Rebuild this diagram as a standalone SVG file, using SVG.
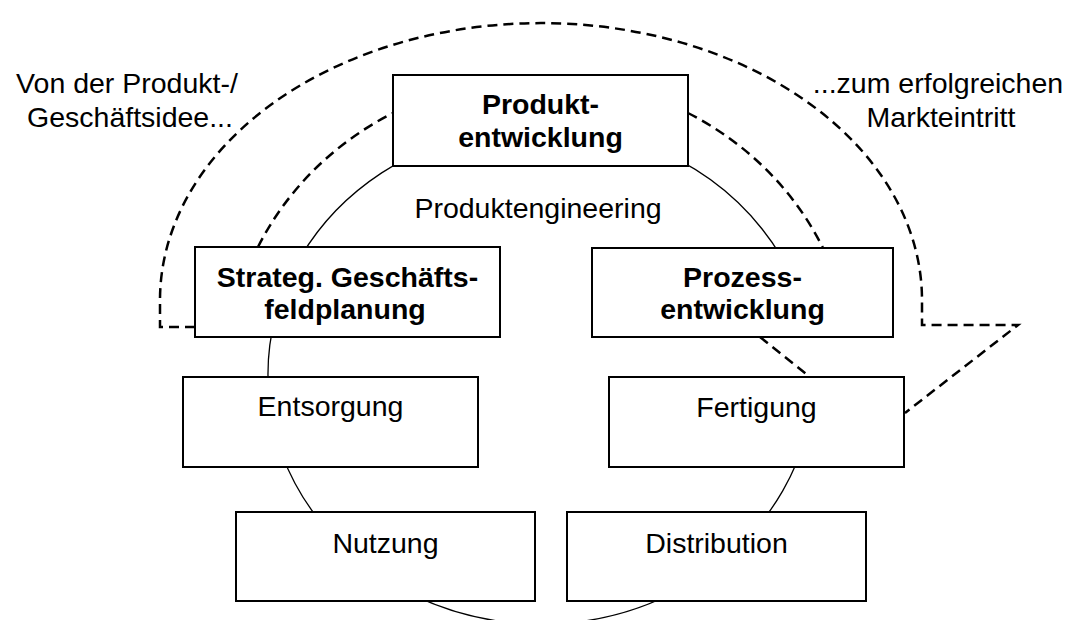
<svg xmlns="http://www.w3.org/2000/svg" width="1071" height="620" viewBox="0 0 1071 620">
  <style>
    .box { fill: #ffffff; stroke: #000000; stroke-width: 2; }
    .ring { fill: none; stroke: #000000; stroke-width: 1.3; }
    .dash { fill: none; stroke: #000000; stroke-width: 2.5; stroke-dasharray: 10 6; }
    text { font-family: "Liberation Sans", Arial, sans-serif; font-size: 28.5px; fill: #000000; text-anchor: middle; }
    .bold { font-weight: bold; }
  </style>
  <rect width="1071" height="620" fill="#ffffff"/>

  <!-- connectors: life-cycle ring and dashed flow from idea to market entry -->
  <g id="connectors">
    <!-- life-cycle ring (open between Prozessentwicklung and Fertigung) -->
    <path class="ring" d="M814,377 A273,249 0 1 1 810.8,337"/>
    <!-- inner dashed arc over Produktentwicklung -->
    <path class="dash" d="M258,247 A313.6,297 0 0 1 393,113"/>
    <path class="dash" d="M688,113 A313.6,297 0 0 1 823,248"/>
    <!-- dashed link Prozessentwicklung to Fertigung -->
    <path class="dash" d="M760,337 L810,377"/>
    <!-- outer dashed arrow outline -->
    <path class="dash" d="M195,327 L160,327 L160,300 A381,277 0 0 1 922,300 L922,325 L1018,325 L905,413"/>
  </g>

  <g id="label-start">
    <text x="127" y="93">Von der Produkt-/</text>
    <text x="130" y="127">Geschäftsidee...</text>
  </g>
  <g id="label-end">
    <text x="938" y="93">...zum erfolgreichen</text>
    <text x="941" y="127">Markteintritt</text>
  </g>
  <g id="label-ring">
    <text x="538" y="218">Produktengineering</text>
  </g>

  <g id="node-produktentwicklung">
    <rect class="box" x="393" y="75" width="295" height="91"/>
    <text class="bold" x="540.5" y="114">Produkt-</text>
    <text class="bold" x="540.5" y="147">entwicklung</text>
  </g>
  <g id="node-geschaeftsfeldplanung">
    <rect class="box" x="195" y="247" width="305" height="90"/>
    <text class="bold" x="347.5" y="287">Strateg. Geschäfts-</text>
    <text class="bold" x="345" y="319">feldplanung</text>
  </g>
  <g id="node-prozessentwicklung">
    <rect class="box" x="592" y="248" width="301" height="89"/>
    <text class="bold" x="742.5" y="287">Prozess-</text>
    <text class="bold" x="742.5" y="319">entwicklung</text>
  </g>
  <g id="node-entsorgung">
    <rect class="box" x="183" y="377" width="295" height="90"/>
    <text x="330.5" y="416">Entsorgung</text>
  </g>
  <g id="node-fertigung">
    <rect class="box" x="609" y="377" width="295" height="90"/>
    <text x="756.5" y="417">Fertigung</text>
  </g>
  <g id="node-nutzung">
    <rect class="box" x="236" y="512" width="299" height="89"/>
    <text x="385.5" y="553">Nutzung</text>
  </g>
  <g id="node-distribution">
    <rect class="box" x="567" y="512" width="299" height="89"/>
    <text x="716.5" y="553">Distribution</text>
  </g>
</svg>
